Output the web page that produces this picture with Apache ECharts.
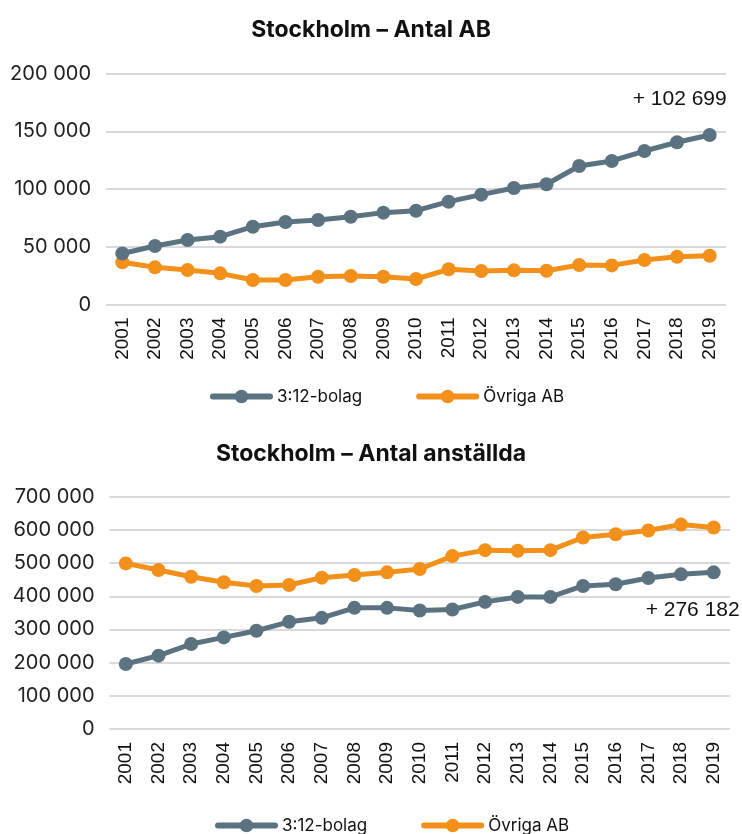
<!DOCTYPE html>
<html>
<head>
<meta charset="utf-8">
<script src="https://cdn.jsdelivr.net/npm/echarts@6/dist/echarts.min.js"></script>
<style>html,body{margin:0;padding:0;background:#fff}#c{width:742px;height:834px}</style>
</head>
<body>
<div id="c"></div>
<script>
const years = ['2001','2002','2003','2004','2005','2006','2007','2008','2009','2010','2011','2012','2013','2014','2015','2016','2017','2018','2019'];
const abBolag = [44200, 50700, 55900, 58800, 67400, 71500, 73200, 76100, 79600, 81300, 89100, 95200, 101000, 104200, 120000, 124400, 133000, 140600, 146900];
const abOvriga = [36600, 32200, 29900, 27000, 21200, 21200, 24100, 24700, 24100, 22100, 30500, 29000, 29600, 29300, 34200, 33900, 38500, 41400, 42300];
const empBolag = [196000, 221000, 256000, 276000, 296000, 323000, 335000, 365000, 365000, 357000, 360000, 383000, 398000, 398000, 431000, 436000, 455000, 466000, 472000];
const empOvriga = [499000, 479000, 459000, 442000, 431000, 434000, 456000, 464000, 472000, 482000, 521000, 539000, 537000, 539000, 577000, 587000, 598000, 616000, 607000];
const titles = ['Stockholm – Antal AB', 'Stockholm – Antal anställda'];
const seriesNames = ['3:12-bolag', 'Övriga AB'];
const notes = ['+ 102 699', '+ 276 182'];

const GREY = '#5b7280', ORANGE = '#f2901a';
const fmt = v => String(v).replace(/\B(?=(\d{3})+(?!\d))/g, ' ');

const chart = echarts.init(document.getElementById('c'));
function xAxis(i){
  return {type:'category', gridIndex:i, data:years, boundaryGap:true,
    axisLine:{show:false}, axisTick:{show:false},
    axisLabel:{rotate:90, fontFamily:'Liberation Sans', fontSize:19, color:'#111', margin:13}};
}
function yAxis(i, max, interval){
  return {type:'value', gridIndex:i, min:0, max:max, interval:interval,
    axisLine:{show:false}, axisTick:{show:false},
    splitLine:{lineStyle:{color:'#d9d9d9', width:2}},
    axisLabel:{formatter:fmt, fontFamily:'Inter', fontSize:20, color:'#222', margin:15}};
}
function line(name, data, color, gi, note, off){
  const s = {name:name, type:'line', xAxisIndex:gi, yAxisIndex:gi, data:data,
    symbol:'circle', symbolSize:14, showSymbol:true,
    lineStyle:{color:color, width:5}, itemStyle:{color:color}, z:color===GREY?3:2};
  if(note){
    s.markPoint = {symbol:'circle', symbolSize:0, silent:true,
      data:[{coord:[years[years.length-1], data[data.length-1]], value:note}],
      label:{show:true, formatter:note, fontFamily:'Liberation Sans', fontSize:21, color:'#111', offset:off}};
  }
  return s;
}
function legend(left, top){
  return {data:seriesNames, left:left, top:top, itemWidth:57, itemHeight:17, itemGap:54,
    itemStyle:{borderWidth:0}, lineStyle:{width:6, cap:'round'},
    textStyle:{fontFamily:'Inter', fontSize:17, color:'#111', padding:[0,0,0,2]}};
}
const titleStyle = {fontFamily:'Inter', fontWeight:'bold', fontSize:23, color:'#111'};

chart.setOption({
  animation:false,
  title:[
    {text:titles[0], left:'center', top:14, textStyle:titleStyle},
    {text:titles[1], left:'center', top:438, textStyle:titleStyle}
  ],
  legend:[legend(205, 383), legend(210, 812)],
  grid:[
    {left:106, right:16, top:73.7, height:230.8},
    {left:109.5, right:12, top:496.7, height:232.3}
  ],
  xAxis:[xAxis(0), xAxis(1)],
  yAxis:[yAxis(0, 200000, 50000), yAxis(1, 700000, 100000)],
  series:[
    line(seriesNames[0], abBolag, GREY, 0, notes[0], [-30,-36]),
    line(seriesNames[1], abOvriga, ORANGE, 0),
    line(seriesNames[0], empBolag, GREY, 1, notes[1], [-21,38]),
    line(seriesNames[1], empOvriga, ORANGE, 1)
  ]
});
</script>
</body>
</html>
